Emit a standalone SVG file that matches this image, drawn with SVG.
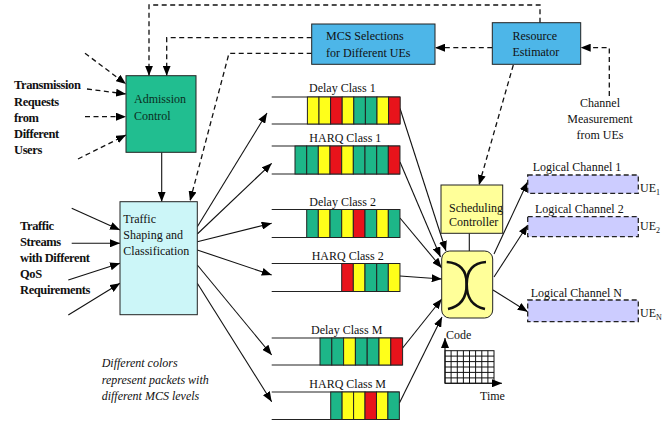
<svg xmlns="http://www.w3.org/2000/svg" width="670" height="424" viewBox="0 0 670 424">
<defs>
<marker id="ah" markerUnits="userSpaceOnUse" markerWidth="10" markerHeight="8" refX="10" refY="4" orient="auto">
<path d="M0,0 L10,4 L0,8 z" fill="#000"/>
</marker>
<style>
text{font-family:'Liberation Serif','DejaVu Serif','Times New Roman',serif;font-size:12px;fill:#111}
.b{font-weight:bold;font-size:12.5px;letter-spacing:-0.4px}
.it{font-style:italic}
.box{stroke:#222;stroke-width:1}
.g{fill:#1db688;stroke:#222;stroke-width:1}
.y{fill:#ffff1a;stroke:#222;stroke-width:1}
.r{fill:#e8131b;stroke:#222;stroke-width:1}
.ql{stroke:#222;stroke-width:1.2}
.s{fill:none;stroke:#111;stroke-width:1.1;marker-end:url(#ah)}
.sn{fill:none;stroke:#111;stroke-width:1.1}
.da{fill:none;stroke:#111;stroke-width:1.3;stroke-dasharray:5,3.5;marker-end:url(#ah)}
.lc{fill:#ccccff;stroke:#222;stroke-width:1.3;stroke-dasharray:5,3}
.sub{font-size:8px}
</style>
</defs>

<g id="connectors">
<path class="da" d="M540,22.7 L540,5 L149,5 L149,75.7"/>
<path class="da" d="M311.7,37.7 L166.7,37.7 L166.7,75.7"/>
<path class="da" d="M311.7,53.3 L229,53.3 L190,201"/>
<path class="da" d="M492.3,47.7 L435,47.7"/>
<path class="da" d="M609.3,96 L609.3,47.7 L580.7,47.7"/>
<path class="da" d="M513.3,65 L479,185"/>
<path class="da" d="M85,53.3 L126,84"/>
<path class="da" d="M87,89 L126,94"/>
<path class="da" d="M85,116.7 L126,116.7"/>
<path class="da" d="M78,159 L126,135"/>
<path class="s" d="M161.7,152.3 L161.7,201.7"/>
<path class="s" d="M71.7,208.3 L120,230"/>
<path class="s" d="M71.7,243.3 L120,243.3"/>
<path class="s" d="M68.3,280 L120,263.3"/>
<path class="s" d="M68.3,315 L120,283.3"/>
<path class="s" d="M197.3,226.7 L267,113"/>
<path class="s" d="M197.3,234 L271.7,163.3"/>
<path class="s" d="M197.3,241.7 L271.7,223.3"/>
<path class="s" d="M197.3,250 L271.7,275"/>
<path class="s" d="M197.3,265 L271.7,355"/>
<path class="s" d="M197.3,283.3 L271.7,401.7"/>
<path class="s" d="M400,108.5 L446,251"/>
<path class="s" d="M400,162 L440.5,257"/>
<path class="s" d="M400,218 L441.7,268"/>
<path class="s" d="M400,276 L441.7,279"/>
<path class="s" d="M402.6,348 L441.7,299"/>
<path class="s" d="M399.4,403 L442,317"/>
<path class="sn" d="M469.3,233.3 L469.3,251"/>
<path class="s" d="M494,254 L527.7,181.7"/>
<path class="s" d="M494,277 L527.7,225"/>
<path class="s" d="M493,290 L527.7,311.7"/>
</g>

<g id="transmission-requests">
<text class="b" x="14" y="89.3">Transmission</text>
<text class="b" x="14" y="106">Requests</text>
<text class="b" x="14" y="121.7">from</text>
<text class="b" x="14" y="137.7">Different</text>
<text class="b" x="14" y="154">Users</text>
</g>

<g id="traffic-streams">
<text class="b" x="20" y="230">Traffic</text>
<text class="b" x="20" y="246">Streams</text>
<text class="b" x="20" y="261.7">with Different</text>
<text class="b" x="20" y="278.3">QoS</text>
<text class="b" x="20" y="294">Requirements</text>
</g>

<g id="admission-control">
<rect class="box" x="126" y="75.7" width="70" height="76.6" fill="#21be90"/>
<text x="134" y="103" style="fill:#0b2e22">Admission</text>
<text x="134" y="120" style="fill:#0b2e22">Control</text>
</g>

<g id="traffic-shaping">
<rect class="box" x="120" y="201.7" width="77.3" height="113" fill="#ccf6f8"/>
<text x="123.3" y="223.3">Traffic</text>
<text x="123.3" y="239.3">Shaping and</text>
<text x="123.3" y="255">Classification</text>
</g>

<g id="mcs-selections">
<rect class="box" x="311.7" y="24" width="123.3" height="40.3" fill="#4db6e8"/>
<text x="326" y="40">MCS Selections</text>
<text x="326" y="56.7">for Different UEs</text>
</g>

<g id="resource-estimator">
<rect class="box" x="492.3" y="22.7" width="88.4" height="41.6" fill="#4db6e8"/>
<text x="512.5" y="40">Resource</text>
<text x="512.5" y="56">Estimator</text>
</g>

<g id="channel-measurement">
<text x="600" y="106.7" text-anchor="middle">Channel</text>
<text x="600" y="123.3" text-anchor="middle">Measurement</text>
<text x="600" y="139.3" text-anchor="middle">from UEs</text>
</g>

<g id="delay-class-1">
<text x="309" y="91.7">Delay Class 1</text>
<line class="ql" x1="271.7" y1="97" x2="400" y2="97"/>
<line class="ql" x1="271.7" y1="124" x2="400" y2="124"/>
<rect class="y" x="307.4" y="97" width="11.6" height="27"/>
<rect class="y" x="319" y="97" width="11.6" height="27"/>
<rect class="r" x="330.6" y="97" width="11.6" height="27"/>
<rect class="y" x="342.2" y="97" width="11.6" height="27"/>
<rect class="g" x="353.8" y="97" width="11.6" height="27"/>
<rect class="g" x="365.4" y="97" width="11.6" height="27"/>
<rect class="y" x="377" y="97" width="11.6" height="27"/>
<rect class="r" x="388.6" y="97" width="11.6" height="27"/>
</g>

<g id="harq-class-1">
<text x="309.3" y="141.7">HARQ Class 1</text>
<line class="ql" x1="271.7" y1="146" x2="400" y2="146"/>
<line class="ql" x1="271.7" y1="174" x2="400" y2="174"/>
<rect class="g" x="295" y="146" width="11.67" height="28"/>
<rect class="g" x="306.7" y="146" width="11.67" height="28"/>
<rect class="y" x="318.3" y="146" width="11.67" height="28"/>
<rect class="r" x="330" y="146" width="11.67" height="28"/>
<rect class="y" x="341.7" y="146" width="11.67" height="28"/>
<rect class="g" x="353.3" y="146" width="11.67" height="28"/>
<rect class="g" x="365" y="146" width="11.67" height="28"/>
<rect class="g" x="376.7" y="146" width="11.67" height="28"/>
<rect class="r" x="388.3" y="146" width="11.67" height="28"/>
</g>

<g id="delay-class-2">
<text x="309.3" y="206">Delay Class 2</text>
<line class="ql" x1="271.7" y1="209.5" x2="400" y2="209.5"/>
<line class="ql" x1="271.7" y1="237.5" x2="400" y2="237.5"/>
<rect class="g" x="306.7" y="209.5" width="11.67" height="28"/>
<rect class="y" x="318.3" y="209.5" width="11.67" height="28"/>
<rect class="g" x="330" y="209.5" width="11.67" height="28"/>
<rect class="y" x="341.7" y="209.5" width="11.67" height="28"/>
<rect class="r" x="353.3" y="209.5" width="11.67" height="28"/>
<rect class="g" x="365" y="209.5" width="11.67" height="28"/>
<rect class="y" x="376.7" y="209.5" width="11.67" height="28"/>
<rect class="g" x="388.3" y="209.5" width="11.67" height="28"/>
</g>

<g id="harq-class-2">
<text x="311.7" y="260">HARQ Class 2</text>
<line class="ql" x1="271.7" y1="263.5" x2="400" y2="263.5"/>
<line class="ql" x1="271.7" y1="291.5" x2="400" y2="291.5"/>
<rect class="r" x="341.7" y="263.5" width="11.67" height="28"/>
<rect class="y" x="353.3" y="263.5" width="11.67" height="28"/>
<rect class="g" x="365" y="263.5" width="11.67" height="28"/>
<rect class="g" x="376.7" y="263.5" width="11.67" height="28"/>
<rect class="y" x="388.3" y="263.5" width="11.67" height="28"/>
</g>

<g id="delay-class-m">
<text x="311" y="334">Delay Class M</text>
<line class="ql" x1="271.7" y1="338" x2="402.6" y2="338"/>
<line class="ql" x1="271.7" y1="365" x2="402.6" y2="365"/>
<rect class="g" x="320" y="338" width="11.8" height="27"/>
<rect class="g" x="331.8" y="338" width="11.8" height="27"/>
<rect class="y" x="343.6" y="338" width="11.8" height="27"/>
<rect class="g" x="355.4" y="338" width="11.8" height="27"/>
<rect class="g" x="367.2" y="338" width="11.8" height="27"/>
<rect class="y" x="379" y="338" width="11.8" height="27"/>
<rect class="r" x="390.8" y="338" width="11.8" height="27"/>
</g>

<g id="harq-class-m">
<text x="309.3" y="388">HARQ Class M</text>
<line class="ql" x1="271.7" y1="392" x2="399.4" y2="392"/>
<line class="ql" x1="271.7" y1="419.5" x2="399.4" y2="419.5"/>
<rect class="g" x="330.7" y="392" width="11.45" height="27.5"/>
<rect class="y" x="342.1" y="392" width="11.45" height="27.5"/>
<rect class="y" x="353.6" y="392" width="11.45" height="27.5"/>
<rect class="r" x="365" y="392" width="11.45" height="27.5"/>
<rect class="y" x="376.5" y="392" width="11.45" height="27.5"/>
<rect class="g" x="387.9" y="392" width="11.45" height="27.5"/>
</g>

<g id="legend-note">
<text class="it" x="101.7" y="366.7">Different colors</text>
<text class="it" x="101.7" y="384">represent packets with</text>
<text class="it" x="101.7" y="400">different MCS levels</text>
</g>

<g id="scheduling-controller">
<rect class="box" x="441" y="185" width="61.7" height="48.3" fill="#ffff99"/>
<text x="449" y="211.7">Scheduling</text>
<text x="449" y="225.5">Controller</text>
</g>

<g id="switch">
<rect class="box" x="441.7" y="251" width="51" height="67" rx="8" ry="8" fill="#ffff99"/>
<path d="M446.7,262 C461,263 466.7,272 466.7,284 C466.7,297 462,306 448,309" fill="none" stroke="#111" stroke-width="2.6"/>
<path d="M486,262 C472,263 466.7,272 466.7,284 C466.7,297 471,306 485,309" fill="none" stroke="#111" stroke-width="2.6"/>
</g>

<g id="code-time-grid">
<g stroke="#111" stroke-width="1" fill="none">
<rect x="445" y="350.7" width="49" height="32.6"/>
<line x1="451.1" y1="350.7" x2="451.1" y2="383.3"/>
<line x1="457.3" y1="350.7" x2="457.3" y2="383.3"/>
<line x1="463.4" y1="350.7" x2="463.4" y2="383.3"/>
<line x1="469.5" y1="350.7" x2="469.5" y2="383.3"/>
<line x1="475.6" y1="350.7" x2="475.6" y2="383.3"/>
<line x1="481.8" y1="350.7" x2="481.8" y2="383.3"/>
<line x1="487.9" y1="350.7" x2="487.9" y2="383.3"/>
<line x1="445" y1="356.1" x2="494" y2="356.1"/>
<line x1="445" y1="361.6" x2="494" y2="361.6"/>
<line x1="445" y1="367" x2="494" y2="367"/>
<line x1="445" y1="372.4" x2="494" y2="372.4"/>
<line x1="445" y1="377.9" x2="494" y2="377.9"/>
</g>
<path class="s" d="M445,383.3 L445,338"/>
<path class="s" d="M445,383.3 L502,383.3"/>
<text x="446" y="339">Code</text>
<text x="480" y="400">Time</text>
</g>

<g id="logical-channel-1">
<rect class="lc" x="527.7" y="175" width="110.6" height="18.3"/>
<text x="532.7" y="170.7">Logical Channel 1</text>
<text x="640" y="191.7">UE<tspan class="sub" dy="3">1</tspan></text>
</g>

<g id="logical-channel-2">
<rect class="lc" x="527.7" y="216.7" width="110.6" height="20"/>
<text x="535" y="213.3">Logical Channel 2</text>
<text x="640" y="230">UE<tspan class="sub" dy="3">2</tspan></text>
</g>

<g id="logical-channel-n">
<rect class="lc" x="527.7" y="300" width="110.6" height="21.7"/>
<text x="530.7" y="296.7">Logical Channel N</text>
<text x="640" y="316.7">UE<tspan class="sub" dy="3">N</tspan></text>
</g>
</svg>
